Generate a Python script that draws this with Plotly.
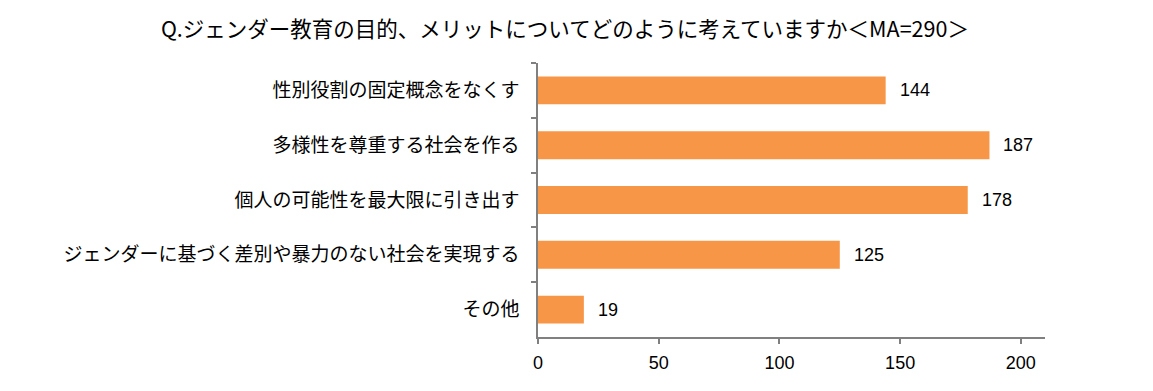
import plotly.graph_objects as go

categories = [
    "性別役割の固定概念をなくす",
    "多様性を尊重する社会を作る",
    "個人の可能性を最大限に引き出す",
    "ジェンダーに基づく差別や暴力のない社会を実現する",
    "その他",
]
values = [144, 187, 178, 125, 19]
x_ticks = [0, 50, 100, 150, 200]
title = "Q.ジェンダー教育の目的、メリットについてどのように考えていますか＜MA=290＞"

fig = go.Figure(go.Bar(
    y=categories,
    x=values,
    orientation="h",
    marker=dict(color="#F79646", line=dict(width=0)),
    width=0.51,
    hoverinfo="x+y",
))

for c, v in zip(categories, values):
    fig.add_annotation(
        x=v, y=c, text=str(v), showarrow=False,
        xanchor="left", yanchor="middle", xshift=12,
        font=dict(family="Liberation Sans, Arial", size=18, color="#000000"),
    )

fig.update_layout(
    width=1153, height=391,
    margin=dict(l=530, r=116, t=55, b=62),
    paper_bgcolor="white", plot_bgcolor="white",
    title=dict(text=title, x=0.483, xanchor="center", y=0.944, yanchor="middle",
               font=dict(family="Noto Sans CJK JP", size=21.5, color="#000000")),
    showlegend=False,
)
fig.update_xaxes(
    range=[0, 210], tickvals=x_ticks, showgrid=False, zeroline=False,
    showline=True, linecolor="#808080", linewidth=1.5,
    ticks="outside", ticklen=5, tickcolor="#808080", tickwidth=1.5,
    ticklabelstandoff=4,
    tickfont=dict(family="Liberation Sans, Arial", size=18, color="#000000"),
)
fig.update_yaxes(
    autorange="reversed", showgrid=False, zeroline=False,
    showline=True, linecolor="#808080", linewidth=1.5,
    ticks="outside", ticklen=5, tickcolor="#808080", tickwidth=1.5,
    tickson="boundaries", ticklabelstandoff=13,
    tickfont=dict(family="Noto Sans CJK JP", size=19, color="#000000"),
)

fig.write_html("out.html")
